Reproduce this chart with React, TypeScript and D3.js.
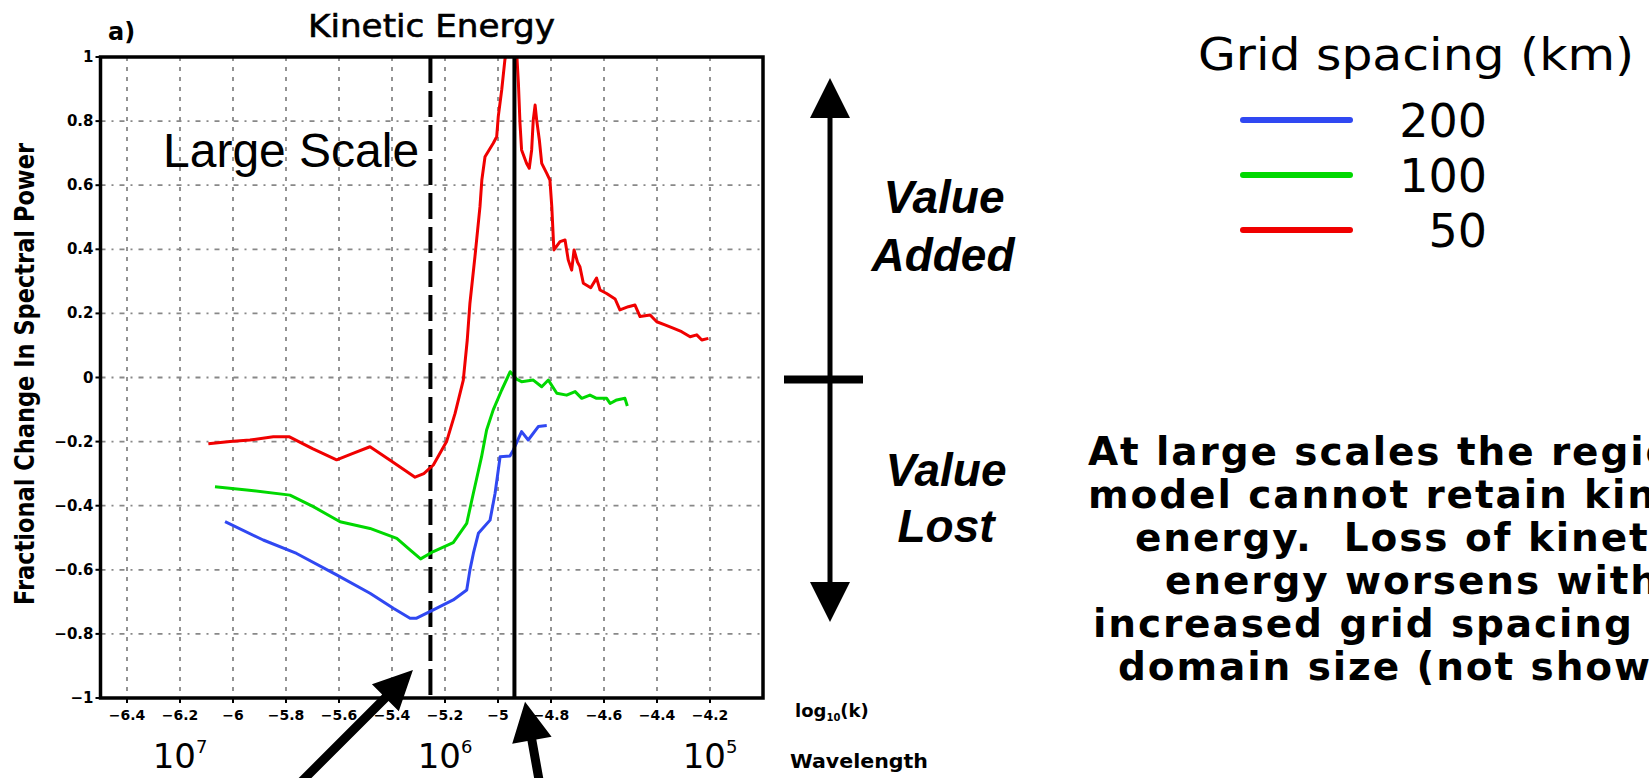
import React from "react";
import * as d3 from "d3";

// log10(k) vs fractional change
const blue200 = [
  [-6.03, -0.45], [-5.886, -0.507], [-5.76, -0.549], [-5.609, -0.616], [-5.483, -0.673],
  [-5.395, -0.72], [-5.332, -0.751], [-5.307, -0.751], [-5.244, -0.725], [-5.169, -0.694],
  [-5.118, -0.663], [-5.106, -0.601], [-5.093, -0.549], [-5.074, -0.486], [-5.03, -0.445],
  [-5.011, -0.361], [-4.992, -0.247], [-4.955, -0.245], [-4.942, -0.226], [-4.911, -0.169],
  [-4.886, -0.195], [-4.848, -0.153], [-4.816, -0.15],
];
const green100 = [
  [-6.068, -0.341], [-5.948, -0.351], [-5.785, -0.367], [-5.697, -0.403], [-5.596, -0.45],
  [-5.483, -0.471], [-5.382, -0.502], [-5.332, -0.538], [-5.292, -0.566], [-5.244, -0.543],
  [-5.169, -0.515], [-5.118, -0.455], [-5.093, -0.361], [-5.062, -0.247], [-5.043, -0.164],
  [-5.018, -0.101], [-4.986, -0.039], [-4.954, 0.018], [-4.93, -0.005], [-4.911, -0.013],
  [-4.867, -0.008], [-4.835, -0.029], [-4.81, -0.008], [-4.778, -0.049], [-4.741, -0.055],
  [-4.709, -0.044], [-4.684, -0.065], [-4.653, -0.055], [-4.628, -0.065], [-4.59, -0.065],
  [-4.577, -0.081], [-4.552, -0.07], [-4.521, -0.065], [-4.512, -0.089],
];
const red50 = [
  [-6.093, -0.207], [-6.011, -0.2], [-5.936, -0.195], [-5.848, -0.185], [-5.787, -0.185],
  [-5.7, -0.222], [-5.609, -0.257], [-5.545, -0.236], [-5.483, -0.216], [-5.4, -0.262],
  [-5.313, -0.311], [-5.28, -0.3], [-5.244, -0.273], [-5.194, -0.2], [-5.162, -0.112],
  [-5.131, -0.008], [-5.116, 0.117], [-5.106, 0.231], [-5.087, 0.377], [-5.068, 0.533],
  [-5.061, 0.616], [-5.049, 0.689], [-5.018, 0.731], [-5.005, 0.751], [-4.999, 0.814],
  [-4.986, 0.897], [-4.974, 0.991], [-4.962, 1.04], [-4.945, 1.04], [-4.929, 1.006],
  [-4.923, 0.918], [-4.917, 0.793], [-4.911, 0.71], [-4.892, 0.668], [-4.882, 0.653],
  [-4.873, 0.71], [-4.867, 0.803], [-4.86, 0.85], [-4.854, 0.803], [-4.844, 0.741],
  [-4.835, 0.668], [-4.816, 0.637], [-4.804, 0.616], [-4.797, 0.533], [-4.791, 0.429],
  [-4.789, 0.398], [-4.766, 0.424], [-4.747, 0.429], [-4.735, 0.367], [-4.722, 0.335],
  [-4.713, 0.398], [-4.7, 0.36], [-4.691, 0.346], [-4.678, 0.294], [-4.65, 0.28],
  [-4.628, 0.31], [-4.615, 0.273], [-4.59, 0.262], [-4.558, 0.245], [-4.54, 0.211],
  [-4.508, 0.221], [-4.483, 0.226], [-4.464, 0.19], [-4.426, 0.195], [-4.401, 0.174],
  [-4.37, 0.164], [-4.339, 0.154], [-4.307, 0.143], [-4.275, 0.127], [-4.25, 0.133],
  [-4.231, 0.117], [-4.206, 0.122],
];

const legendLabels = ["200", "100", "50"];
const seriesColors = ["#3048f2", "#00d800", "#f00000"];
const xTicks = [-6.4, -6.2, -6, -5.8, -5.6, -5.4, -5.2, -5, -4.8, -4.6, -4.4, -4.2];
const yTicks = [-1, -0.8, -0.6, -0.4, -0.2, 0, 0.2, 0.4, 0.6, 0.8, 1];
const waveK = [-6.2, -5.2, -4.2];
const waveExp = ["7", "6", "5"];
const largeScaleK = -5.255;
const peakK = -4.938;
const noteLines = [
  "At large scales the regional",
  "model cannot retain kinetic",
  "energy.  Loss of kinetic",
  "energy worsens with",
  "increased grid spacing and",
  "domain size (not shown)",
];
const noteX = [1088, 1088, 1135, 1165, 1093, 1118];

const W = 1649;
const H = 778;

// filled arrow path from tail to tip
const arrowPath = (x1, y1, x2, y2, headLen, headHalf, shaft) => {
  const dx = x2 - x1, dy = y2 - y1;
  const len = Math.hypot(dx, dy);
  const ux = dx / len, uy = dy / len;
  const px = -uy, py = ux;
  const bx = x2 - ux * headLen, by = y2 - uy * headLen;
  const s = shaft / 2;
  const pts = [
    [x1 + px * s, y1 + py * s],
    [bx + px * s, by + py * s],
    [bx + px * headHalf, by + py * headHalf],
    [x2, y2],
    [bx - px * headHalf, by - py * headHalf],
    [bx - px * s, by - py * s],
    [x1 - px * s, y1 - py * s],
  ];
  return "M" + pts.map((p) => p.join(",")).join("L") + "Z";
};

const App = () => {
  const x = d3.scaleLinear().domain([-6.5, -4]).range([100.5, 763]);
  const y = d3.scaleLinear().domain([-1, 1]).range([698, 57]);
  const fmt = d3.format("~g");
  const line = d3
    .line()
    .x((d) => x(d[0]))
    .y((d) => y(d[1]));
  const series = [blue200, green100, red50];

  const [x0, x1] = x.range();
  const [yb, yt] = y.range();
  const tickFont = { fontFamily: "DejaVu Sans", fontWeight: "bold", fontSize: 15 };

  // annotation arrows anchored in data space
  const a1x = x(-5.321), a1y = y(-0.913);
  const a2x = x(-4.898), a2y = y(-1.012);
  const bigX = 830;
  const zeroY = y(0);

  return (
    <svg
      width={W}
      height={H}
      style={{ position: "absolute", left: 0, top: 0, background: "#fff" }}
    >
      <defs>
        <clipPath id="plot">
          <rect x={x0} y={yt} width={x1 - x0} height={yb - yt} />
        </clipPath>
      </defs>

      {/* grid */}
      {xTicks.map((t) => (
        <line key={"gx" + t} x1={x(t)} x2={x(t)} y1={yt} y2={yb}
          stroke="#888" strokeWidth={1.8} strokeDasharray="4 6" />
      ))}
      {yTicks.slice(1, -1).map((t) => (
        <line key={"gy" + t} x1={x0} x2={x1} y1={y(t)} y2={y(t)}
          stroke="#888" strokeWidth={1.8} strokeDasharray="5 6 2 6" />
      ))}

      <text x={163} y={167} fontFamily="Liberation Sans" fontSize={48}>Large Scale</text>

      {/* reference lines */}
      <line x1={x(largeScaleK)} x2={x(largeScaleK)} y1={yt} y2={yb}
        stroke="#000" strokeWidth={4} strokeDasharray="26 8" />

      {/* series */}
      <g clipPath="url(#plot)">
        {series.map((s, i) => (
          <path key={i} d={line(s)} fill="none" stroke={seriesColors[i]}
            strokeWidth={3} strokeLinejoin="round" />
        ))}
      </g>
      <line x1={x(peakK)} x2={x(peakK)} y1={yt} y2={yb} stroke="#000" strokeWidth={4} />

      {/* frame and ticks */}
      <rect x={x0} y={yt} width={x1 - x0} height={yb - yt} fill="none"
        stroke="#000" strokeWidth={3.5} />
      {yTicks.map((t) => (
        <g key={"ty" + t}>
          <line x1={x0 - 5} x2={x0} y1={y(t)} y2={y(t)} stroke="#000" strokeWidth={2} />
          <text x={x0 - 7} y={y(t) + 5} textAnchor="end" {...tickFont}>{fmt(t)}</text>
        </g>
      ))}
      {xTicks.map((t) => (
        <g key={"tx" + t}>
          <line x1={x(t)} x2={x(t)} y1={yb} y2={yb + 5} stroke="#000" strokeWidth={2} />
          <text x={x(t)} y={yb + 22} textAnchor="middle" {...tickFont} fontSize={14}>{fmt(t)}</text>
        </g>
      ))}

      {/* titles */}
      <text x={108} y={40} fontFamily="DejaVu Sans" fontWeight="bold" fontSize={24}>a)</text>
      <text x={308} y={37} fontFamily="DejaVu Sans" fontSize={32} stroke="#000"
        strokeWidth={0.6} textLength={247} lengthAdjust="spacingAndGlyphs">Kinetic  Energy</text>
      <text transform={`translate(34,374) rotate(-90)`} textAnchor="middle"
        fontFamily="DejaVu Sans" fontWeight="bold" fontSize={26}
        textLength={462} lengthAdjust="spacingAndGlyphs">Fractional Change In Spectral Power</text>

      <text x={795} y={717} fontFamily="DejaVu Sans" fontWeight="bold" fontSize={18}>
        log<tspan fontSize={10} dy={4}>10</tspan><tspan dy={-4}>(k)</tspan>
      </text>
      <text x={790} y={768} fontFamily="DejaVu Sans" fontWeight="bold" fontSize={20}
        textLength={138} lengthAdjust="spacingAndGlyphs">Wavelength</text>
      {waveK.map((k, i) => (
        <text key={"w" + k} x={x(k)} y={768} textAnchor="middle"
          fontFamily="DejaVu Sans" fontSize={34}>
          10<tspan fontSize={18} dy={-15}>{waveExp[i]}</tspan>
        </text>
      ))}

      {/* arrows below the plot */}
      <path d={arrowPath(a1x - 130, a1y + 130, a1x, a1y, 39, 19, 9)} fill="#000" />
      <path d={arrowPath(a2x + 17, a2y + 95, a2x, a2y, 39, 20, 9)} fill="#000" />

      {/* value added / lost arrow */}
      <path d={arrowPath(bigX, zeroY, bigX, 78, 40, 20, 5)} fill="#000" />
      <path d={arrowPath(bigX, zeroY, bigX, 622, 40, 20, 5)} fill="#000" />
      <line x1={784} x2={863} y1={zeroY + 2} y2={zeroY + 2} stroke="#000" strokeWidth={8} />
      <g fontFamily="Liberation Sans" fontWeight="bold" fontStyle="italic" fontSize={46}
        textAnchor="middle">
        <text x={944} y={213}>Value</text>
        <text x={943} y={271}>Added</text>
        <text x={946} y={486}>Value</text>
        <text x={946} y={542}>Lost</text>
      </g>

      {/* legend */}
      <text x={1198} y={70} fontFamily="DejaVu Sans" fontSize={45}
        textLength={436} lengthAdjust="spacingAndGlyphs">Grid spacing (km)</text>
      {legendLabels.map((lab, i) => (
        <g key={lab}>
          <line x1={1243} x2={1350} y1={120 + i * 55} y2={120 + i * 55}
            stroke={seriesColors[i]} strokeWidth={6} strokeLinecap="round" />
          <text x={1487} y={137 + i * 55} textAnchor="end" fontFamily="DejaVu Sans"
            fontSize={46}>{lab}</text>
        </g>
      ))}

      {/* note, cut off at the right edge as in the slide */}
      <g fontFamily="DejaVu Sans" fontWeight="bold" fontSize={39} letterSpacing={1.9}>
        {noteLines.map((t, i) => (
          <text key={i} x={noteX[i]} y={465 + i * 43} style={{ whiteSpace: "pre" }}>{t}</text>
        ))}
      </g>
    </svg>
  );
};

export default App;
